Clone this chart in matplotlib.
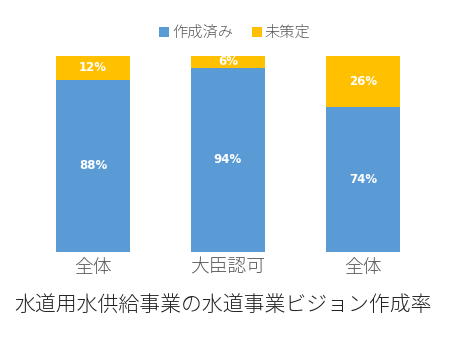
import matplotlib.pyplot as plt
import numpy as np

plt.rcParams['font.family'] = ['Noto Sans CJK JP', 'DejaVu Sans']

categories = ['全体', '大臣認可', '全体']
done = [0.88, 0.94, 0.74]
undecided = [0.12, 0.06, 0.26]
series_names = ['作成済み', '未策定']
title = '水道用水供給事業の水道事業ビジョン作成率'

blue = '#5B9BD5'
gold = '#FFC000'

W, H = 467, 342
fig = plt.figure(figsize=(W / 100, H / 100), dpi=100)
ax = fig.add_axes([25.5 / W, (H - 252) / H, 405 / W, 196 / H])

x = np.arange(len(categories))
b1 = ax.bar(x, done, width=0.55, color=blue, label=series_names[0])
b2 = ax.bar(x, undecided, width=0.55, bottom=done, color=gold, label=series_names[1])

for i in range(len(x)):
    ax.text(x[i], done[i] / 2, f'{done[i]*100:.0f}%', ha='center', va='center',
            color='white', fontsize=8.5, fontweight='bold', family='DejaVu Sans')
    ax.text(x[i], done[i] + undecided[i] / 2, f'{undecided[i]*100:.0f}%',
            ha='center', va='center', color='white', fontsize=8.5,
            fontweight='bold', family='DejaVu Sans')

ax.set_xlim(-0.5, 2.5)
ax.set_ylim(0, 1)
ax.set_xticks(x)
ax.set_xticklabels(categories, fontsize=13.5, color='#595959', fontweight='light')
ax.tick_params(length=0, pad=5)
ax.set_yticks([])
for s in ax.spines.values():
    s.set_visible(False)

fig.legend(handles=[b1, b2], loc='center', bbox_to_anchor=(235 / W, 1 - 33 / H),
           ncol=2, frameon=False, prop={'size': 11, 'weight': 'light'},
           labelcolor='#595959', handlelength=0.65, handleheight=0.65,
           handletextpad=0.2, columnspacing=1.2)

fig.text(223 / W, 1 - 305 / H, title, ha='center', va='center', fontsize=15,
         color='#222222', fontweight='light')

fig.savefig('out.png', dpi=100)
